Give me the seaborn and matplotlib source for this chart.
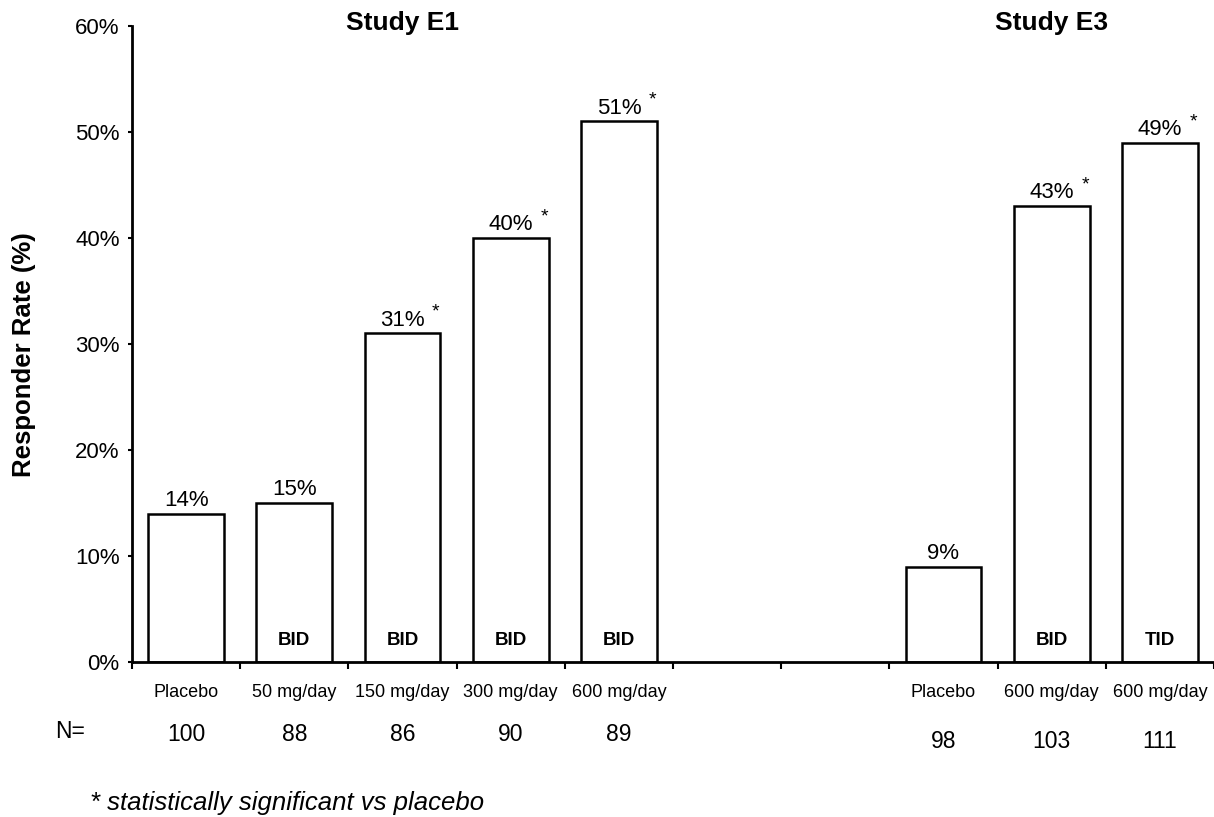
import matplotlib
matplotlib.use("Agg")
import matplotlib.pyplot as plt
import seaborn as sns
import pandas as pd

# Responder rates by study arm
study = ["E1", "E1", "E1", "E1", "E1", "E3", "E3", "E3"]
dose_labels = ["Placebo", "50 mg/day", "150 mg/day", "300 mg/day", "600 mg/day",
               "Placebo", "600 mg/day", "600 mg/day"]
regimen = ["", "BID", "BID", "BID", "BID", "", "BID", "TID"]
rates = [14, 15, 31, 40, 51, 9, 43, 49]
n_values = [100, 88, 86, 90, 89, 98, 103, 111]
significant = [False, False, True, True, True, False, True, True]
gap_slots = ["gap1", "gap2"]

df = pd.DataFrame({
    "arm": [f"{s} {d} {r}".strip() for s, d, r in zip(study, dose_labels, regimen)],
    "study": study, "dose": dose_labels, "regimen": regimen,
    "rate": rates, "n": n_values, "sig": significant,
})
e1 = df[df.study == "E1"]
e3 = df[df.study == "E3"]
order = list(e1.arm) + gap_slots + list(e3.arm)

sns.set_style("white")
plt.rcParams["font.family"] = ["Liberation Sans", "DejaVu Sans"]
for key in ["text.color", "axes.labelcolor", "xtick.color", "ytick.color"]:
    plt.rcParams[key] = "black"

fig = plt.figure(figsize=(12.14, 8.17), dpi=100)
W, H = 1214, 817
x0, y0, ytop = 132, 662, 26
ax = fig.add_axes([x0 / W, (H - y0) / H, (W - x0) / W, (y0 - ytop) / H])

sns.barplot(data=df, x="arm", y="rate", order=order, width=0.7,
            color="white", edgecolor="black", linewidth=1.8, ax=ax)

slot_px = 108.6
ax.set_xlim(-0.5, -0.5 + (W - x0) / slot_px)
ax.set_ylim(0, 60)

for sp in ["top", "right"]:
    ax.spines[sp].set_visible(False)
for sp in ["left", "bottom"]:
    ax.spines[sp].set_linewidth(2)
    ax.spines[sp].set_color("black")

# y axis
ax.set_yticks(range(0, 61, 10))
ax.set_yticklabels([f"{v}%" for v in range(0, 61, 10)], fontsize=16)
ax.tick_params(axis="y", left=True, direction="out", length=3, width=1.5, pad=6)
ax.set_ylabel("Responder Rate (%)", fontsize=18.5, fontweight="bold")
ax.yaxis.set_label_coords((24 - x0) / (W - x0), 0.484)
ax.yaxis.label.set_va("center")

# x axis: ticks at slot boundaries, labels at slot centres
ax.set_xticks([i - 0.5 for i in range(len(order) + 1)])
ax.set_xticklabels([])
ax.tick_params(axis="x", bottom=True, direction="out", length=5, width=1.5)
ax.set_xlabel("")

pos = {a: order.index(a) for a in df.arm}
for _, row in df.iterrows():
    x = pos[row.arm]
    ax.annotate(f"{row.rate}%", (x, row.rate), xytext=(0, 2), textcoords="offset points",
                ha="center", va="bottom", fontsize=16)
    if row.sig:
        ax.annotate("*", (x, row.rate), xytext=(24, 9), textcoords="offset points",
                    ha="center", va="bottom", fontsize=14)
    if row.regimen:
        ax.text(x, 2, row.regimen, ha="center", va="center", fontsize=13.5,
                fontweight="bold")
    ax.annotate(row.dose, (x, 0), xytext=(0, -22), textcoords="offset points",
                ha="center", va="center", fontsize=13)
    n_off = -52 if row.study == "E1" else -57
    ax.annotate(str(row.n), (x, 0), xytext=(0, n_off), textcoords="offset points",
                ha="center", va="center", fontsize=16.5)

fig.text(70 / W, 1 - 731 / H, "N=", ha="center", va="center", fontsize=16.5)

for s, grp in [("E1", e1), ("E3", e3)]:
    xs = [pos[a] for a in grp.arm]
    xc = (min(xs) + max(xs)) / 2 if s == "E1" else pos[grp.arm.iloc[1]]
    ax.text(xc, 60.3, f"Study {s}", ha="center", va="center", fontsize=19,
            fontweight="bold", clip_on=False)

fig.text(90 / W, 1 - 803 / H, "* statistically significant vs placebo",
         ha="left", va="center", fontsize=18.5, style="italic")

fig.savefig("out.png", dpi=100)
